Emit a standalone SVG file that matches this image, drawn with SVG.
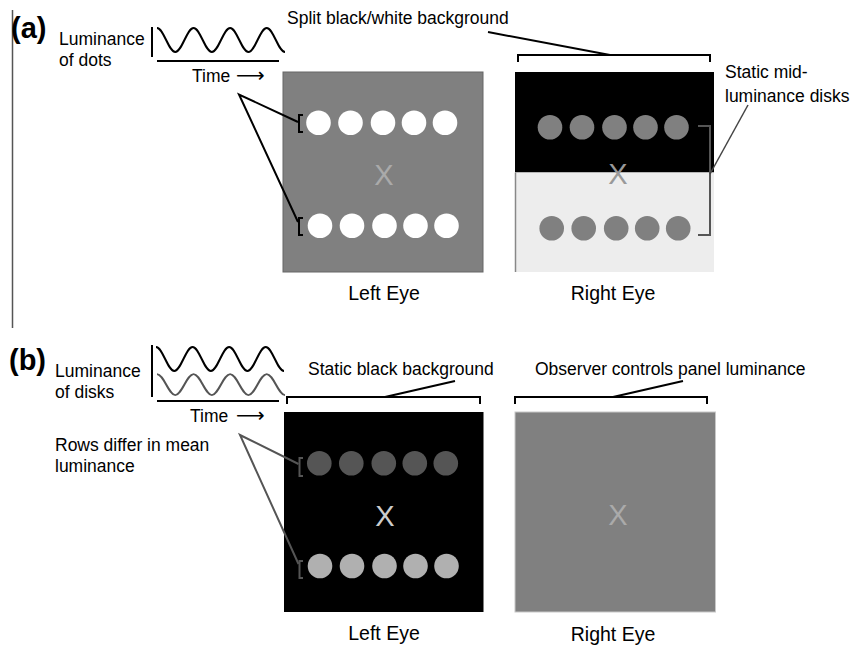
<svg xmlns="http://www.w3.org/2000/svg" width="853" height="649" viewBox="0 0 853 649">
<defs>
<style>
text{font-family:"Liberation Sans","Open Sans",sans-serif;fill:#000}
.lbl{font-size:17.5px}
.eye{font-size:19.5px;text-anchor:middle}
.big{font-size:29px;font-weight:bold}
.x{font-size:29px;text-anchor:middle}
.arr{font-family:"DejaVu Sans",sans-serif;font-size:20px}
.k{fill:none;stroke:#000;stroke-width:2}
.g{fill:none;stroke:#555;stroke-width:2}
</style>
<path id="wave" d="M0,0 C6.66,0 11.63,24 18.29,24 S29.91,0 36.57,0 S48.2,24 54.86,24 S66.48,0 73.14,0 S84.77,24 91.43,24 S103.05,0 109.71,0 S121.34,24 128,24"/>
<g id="row5w">
<circle cx="0" cy="0" r="12.3"/><circle cx="32" cy="0" r="12.3"/><circle cx="64.5" cy="0" r="12.3"/><circle cx="95.5" cy="0" r="12.3"/><circle cx="126.5" cy="0" r="12.3"/>
</g>
</defs>
<rect width="853" height="649" fill="#fff"/>
<line x1="12.5" y1="10" x2="12.5" y2="328" stroke="#555" stroke-width="1.5"/>

<g id="panel-a-legend">
<text class="big" x="11" y="38">(a)</text>
<text class="lbl" x="59" y="45">Luminance</text>
<text class="lbl" x="59" y="66">of dots</text>
<line x1="152" y1="27" x2="152" y2="57" stroke="#000" stroke-width="2"/>
<line x1="157" y1="61" x2="279" y2="61" stroke="#000" stroke-width="2"/>
<use href="#wave" transform="translate(157,28)" fill="none" stroke="#000" stroke-width="2"/>
<text class="lbl" x="192" y="81.5">Time</text>
<text class="arr" x="236" y="81.5">⟶</text>
</g>

<g id="left-eye-a">
<rect x="283" y="72" width="200" height="200" fill="#808080" stroke="#666" stroke-width="1"/>
<use href="#row5w" transform="translate(318.5,122.7)" fill="#fff"/>
<use href="#row5w" transform="translate(320,225.7)" fill="#fff"/>
<path class="k" d="M303,115 H299 V132 H303"/>
<path class="k" d="M303,218 H299 V235 H303"/>
<text class="x" x="384" y="185" style="fill:#aaa">X</text>
<text class="eye" x="384" y="299.5">Left Eye</text>
</g>

<g id="right-eye-a">
<rect x="515" y="72" width="199" height="100.5" fill="#000"/>
<rect x="515" y="172.5" width="199" height="99.5" fill="#ededed"/>
<line x1="515.5" y1="172.5" x2="515.5" y2="272" stroke="#888" stroke-width="1.5"/>
<use href="#row5w" transform="translate(550,127.3)" fill="#808080"/>
<use href="#row5w" transform="translate(551.7,228.3)" fill="#808080"/>
<text class="x" x="618" y="183.5" style="fill:#999">X</text>
<text class="eye" x="613" y="300">Right Eye</text>
</g>

<g id="label-split">
<text class="lbl" x="287" y="24">Split black/white background</text>
</g>
<g id="label-static-mid">
<text class="lbl" x="725" y="78">Static mid-</text>
<text class="lbl" x="725" y="101.5">luminance disks</text>
</g>

<g id="panel-b-legend">
<text class="big" x="9" y="370">(b)</text>
<text class="lbl" x="55" y="377">Luminance</text>
<text class="lbl" x="55" y="398">of disks</text>
<line x1="152" y1="345" x2="152" y2="397" stroke="#000" stroke-width="2"/>
<line x1="157" y1="401" x2="279" y2="401" stroke="#000" stroke-width="2"/>
<use href="#wave" transform="translate(156,347)" fill="none" stroke="#000" stroke-width="2"/>
<use href="#wave" transform="translate(157,374) scale(1,0.875)" fill="none" stroke="#555" stroke-width="2"/>
<text class="lbl" x="190" y="421.5">Time</text>
<text class="arr" x="236" y="421.5">⟶</text>
<text class="lbl" x="55" y="450.5">Rows differ in mean</text>
<text class="lbl" x="55" y="471.5">luminance</text>
</g>

<g id="left-eye-b">
<rect x="284" y="412" width="199.5" height="200" fill="#000"/>
<use href="#row5w" transform="translate(319.3,463.3)" fill="#555"/>
<use href="#row5w" transform="translate(320,566)" fill="#b0b0b0"/>
<path class="g" d="M303,458 H299.5 V476 H303"/>
<path class="g" d="M303,561 H299.5 V578 H303"/>
<text class="x" x="385" y="526" style="fill:#ccc">X</text>
<text class="eye" x="384" y="640">Left Eye</text>
</g>

<g id="right-eye-b">
<rect x="515" y="412" width="200.5" height="200" fill="#808080" stroke="#c8c8c8" stroke-width="1"/>
<text class="x" x="618" y="525" style="fill:#aaa">X</text>
<text class="eye" x="613" y="640.5">Right Eye</text>
</g>

<g id="label-static-black">
<text class="lbl" x="308" y="375">Static black background</text>
</g>
<g id="label-observer">
<text class="lbl" x="535" y="375">Observer controls panel luminance</text>
</g>

<g id="connectors">
<path class="k" d="M298,122 L239,94.5 L298,222"/>
<path class="k" d="M518,62 V55 H710 V62"/>
<line class="k" x1="610" y1="55" x2="488" y2="32"/>
<path class="g" d="M698,126 H710 V235 H698"/>
<line x1="710" y1="174" x2="748" y2="105" stroke="#444" stroke-width="1.5"/>
<path class="g" d="M298.5,464 L240,435 L298.5,564"/>
<path class="k" d="M287,404 V397 H480 V404"/>
<line class="k" x1="385" y1="397" x2="455" y2="381"/>
<path class="k" d="M515,404 V397 H707 V404"/>
<line class="k" x1="613" y1="397" x2="683" y2="381"/>
</g>
</svg>
